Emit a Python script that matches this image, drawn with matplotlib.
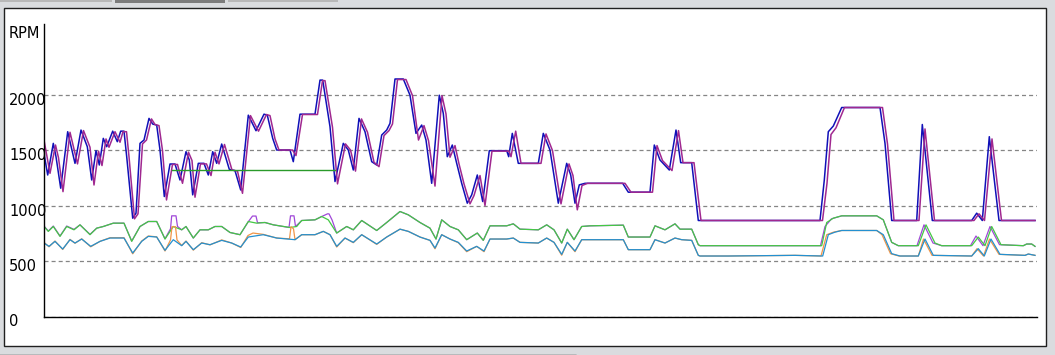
import matplotlib
matplotlib.use("Agg")
import matplotlib.pyplot as plt
import matplotlib.transforms as mtransforms
from matplotlib.patches import Rectangle

W, H = 1055, 355

# engine rpm traces, (time, rpm) breakpoints
t_blue = [0, 3.7, 9.3, 12, 16.7, 23.7, 31, 37, 43.3, 47.7, 52, 55.3, 59.3, 62.7, 68.7, 73.3, 76.7, 80,
          82.7, 88.7, 92, 96, 100, 105, 108.7, 112.7, 116, 120.3, 126, 131, 136, 142, 145.3, 148.7,
          154.3, 160, 164.3, 168.7, 172.7, 177.7, 185.3, 191, 196.7, 204.3, 212, 220, 223.3, 228.7,
          232.7, 246, 249.3, 256, 271, 276, 278.7, 286, 291, 299.3, 304.3, 309.3, 315, 321, 327.7,
          332.7, 337.7, 342.7, 346, 351, 359.3, 366, 372, 377.7, 382, 387.7, 395.3, 399.3, 403.3,
          408.3, 412.7, 417.7, 423.3, 427.7, 433.3, 438.7, 445.3, 462.7, 464.7, 468.3, 474.3, 494.3,
          499.3, 506, 514.3, 522.7, 526.7, 531, 535.3, 541, 578.7, 584.3, 606, 610.3, 616, 625.3,
          632, 636.7, 647.7, 654.3, 776, 780.3, 784.3, 789.3, 797.7, 836, 841, 847.7, 872.7, 878.3,
          888.3, 927.7, 932.7, 938.3, 945.3, 955, 991]
rpm_blue = [1470, 1275, 1560, 1440, 1156, 1665, 1380, 1680, 1530, 1230, 1494, 1365, 1605, 1530, 1670,
            1575, 1670, 1670, 1440, 886, 931, 1560, 1590, 1785, 1734, 1725, 1500, 1081, 1374, 1374,
            1230, 1485, 1410, 1096, 1380, 1380, 1275, 1485, 1380, 1554, 1326, 1314, 1140, 1814, 1674,
            1823, 1814, 1605, 1500, 1500, 1395, 1823, 1823, 2130, 2130, 1710, 1216, 1560, 1500, 1320,
            1785, 1665, 1395, 1365, 1635, 1680, 1740, 2140, 2140, 1994, 1650, 1725, 1590, 1200, 1994,
            1830, 1440, 1545, 1380, 1200, 1021, 1096, 1275, 1036, 1494, 1494, 1440, 1650, 1380, 1380,
            1650, 1500, 1021, 1380, 1275, 1021, 1186, 1200, 1200, 1120, 1120, 1545, 1410, 1320, 1680,
            1386, 1386, 865, 865, 1230, 1665, 1716, 1883, 1883, 1560, 865, 865, 1730, 865, 865, 931,
            865, 1620, 865, 865]

t_purple = [0, 6, 11.5, 14.5, 19, 26, 33.5, 39.5, 46, 50, 54.5, 58, 62, 65, 71, 76, 79, 82.5,
            85, 90.5, 94, 98.5, 102.5, 107.5, 111, 115, 118.5, 122.5, 128.5, 133.5, 138.5, 144.5,
            148, 151, 156.5, 162.5, 167, 171, 175, 180.5, 188, 193.5, 198.5, 206.5, 214.5, 222.5,
            226, 231, 235, 248.5, 252, 258.5, 273.5, 278.5, 281, 288.5, 293.5, 301.5, 306.5, 311.5,
            317.5, 323.5, 330, 335, 340, 345, 348.5, 353.5, 362, 368.5, 374.5, 380, 384.5, 391,
            398, 402, 406, 411, 415, 420, 426, 430, 436, 441, 448, 465, 467, 471.7, 477, 497, 502,
            508.5, 517, 525, 529, 533.3, 538, 543.5, 581, 587, 608.5, 613, 618.5, 628, 634.5, 639,
            650, 657, 778.5, 783, 787, 792, 800.5, 838.5, 843.5, 850, 875, 881, 890.5, 930, 935,
            940.5, 948, 957.5, 991]
rpm_purple = [1590, 1290, 1545, 1430, 1125, 1660, 1375, 1675, 1525, 1185, 1490, 1360, 1600, 1525,
              1665, 1570, 1665, 1665, 1440, 880, 925, 1555, 1590, 1780, 1730, 1720, 1495, 1050, 1370,
              1370, 1200, 1480, 1405, 1075, 1375, 1375, 1270, 1480, 1375, 1550, 1320, 1310, 1110,
              1810, 1670, 1820, 1810, 1600, 1500, 1500, 1450, 1820, 1820, 2125, 2125, 1705, 1195,
              1555, 1500, 1310, 1780, 1660, 1390, 1350, 1630, 1675, 1735, 2135, 2135, 1990, 1590,
              1720, 1585, 1175, 1990, 1825, 1435, 1540, 1375, 1195, 1015, 1090, 1270, 1000, 1490,
              1490, 1440, 1670, 1380, 1380, 1645, 1495, 1015, 1375, 1270, 961, 1180, 1200, 1200,
              1120, 1120, 1540, 1405, 1315, 1675, 1386, 1386, 865, 865, 1200, 1640, 1700, 1883,
              1883, 1555, 865, 865, 1690, 865, 865, 925, 865, 1600, 865, 865]

# flat hold segment
t_hold = [127.7, 291]
rpm_hold = [1317, 1317]

t_green = [0, 4.3, 9.3, 16, 22.7, 30, 36, 46, 52.7, 59.3, 69.3, 80, 87.7, 96, 104.3, 112.7, 121,
           129.3, 137.7, 142, 149.3, 156, 164.3, 171, 177.7, 186, 196, 204.3, 212.7, 221, 229.3,
           246, 252.7, 257.7, 271, 277.7, 284.3, 292.7, 302.7, 309.3, 317.7, 332.7, 342.7, 356,
           364.3, 376, 386, 392, 397.7, 406, 414.3, 422.7, 433.3, 439.3, 446, 462.7, 469.3, 476,
           494.3, 502.7, 510, 517.7, 523.3, 530, 537.7, 546, 579.3, 584.3, 606, 611, 621, 631, 636,
           647.7, 654.3, 656, 777.7, 782.7, 789.3, 797.7, 832.7, 839.3, 847.7, 854.3, 874.3, 882,
           891, 897.7, 927.7, 934.3, 941, 947.7, 957, 979.3, 982.7, 987.7, 991]
rpm_green = [811, 767, 811, 722, 811, 781, 826, 737, 796, 811, 841, 841, 677, 811, 856, 856, 698,
             811, 781, 811, 707, 781, 781, 811, 811, 757, 737, 856, 841, 847, 826, 802, 811, 865,
             871, 901, 871, 752, 811, 781, 865, 775, 847, 946, 916, 847, 796, 698, 871, 811, 781,
             692, 752, 686, 817, 817, 835, 787, 781, 826, 781, 662, 787, 692, 811, 817, 823, 716,
             716, 817, 781, 835, 787, 787, 647, 638, 638, 847, 886, 907, 907, 871, 668, 638, 638,
             826, 662, 638, 638, 716, 638, 811, 647, 638, 653, 653, 632]

t_violet = [0, 4.3, 9.3, 16, 22.7, 30, 36, 46, 52.7, 59.3, 69.3, 80, 87.7, 96, 104.3, 112.7, 121,
            126.5, 127.7, 132, 133.5, 137.7, 142, 149.3, 156, 164.3, 171, 177.7, 186, 196, 204,
            208.5, 212, 213.5, 221, 229.3, 245, 246.5, 250, 251.5, 257.7, 271, 277.7, 283.5, 285,
            288, 292.7, 302.7, 309.3, 317.7, 332.7, 342.7, 356, 364.3, 376, 386, 392, 397.7, 406,
            414.3, 422.7, 433.3, 439.3, 446, 462.7, 469.3, 476, 494.3, 502.7, 510, 517.7, 523.3,
            530, 537.7, 546, 579.3, 584.3, 606, 611, 621, 631, 636, 647.7, 654.3, 656, 776.5, 781,
            787.5, 797.7, 832.7, 839.3, 847.7, 854.3, 873, 880, 889, 897.7, 926.5, 932, 939,
            946, 955.5, 979.3, 982.7, 987.7, 991]
rpm_violet = [815, 770, 815, 725, 815, 785, 826, 740, 796, 811, 841, 841, 680, 811, 856, 856, 700,
              790, 907, 907, 811, 781, 811, 707, 781, 781, 811, 811, 757, 737, 850, 905, 905, 845,
              847, 826, 802, 907, 907, 811, 865, 871, 901, 925, 925, 871, 752, 811, 781, 865, 775,
              847, 946, 916, 847, 796, 698, 871, 811, 781, 692, 752, 686, 817, 817, 835, 787, 781,
              826, 781, 662, 787, 692, 811, 817, 823, 716, 716, 817, 781, 835, 787, 787, 647, 638,
              638, 811, 880, 907, 907, 871, 668, 638, 638, 826, 662, 638, 638, 725, 638, 811, 647,
              638, 653, 653, 632]

t_steel = [0, 5, 11, 18.7, 26, 31, 37.7, 46.7, 56, 66, 80, 88.7, 97.7, 104.3, 112.7, 121, 129.3,
           137.7, 142, 149.3, 157.7, 166, 177.7, 187.7, 196.7, 204.3, 219.3, 232.7, 251, 257.7,
           271, 279.3, 286, 292.7, 301, 309.3, 317.7, 332.7, 342.7, 356, 364.3, 376, 386, 391,
           397.7, 406, 414.3, 422.7, 432.7, 440, 446, 462.7, 469.3, 476, 494.3, 502.7, 510, 517.7,
           523.3, 531, 537.7, 579.3, 584.3, 606, 611, 621, 631, 637.7, 647.7, 654.3, 656, 684.3,
           751, 778.7, 784.3, 791, 797.7, 832.7, 839.3, 847.7, 856, 874.3, 881, 889.3, 927.7,
           934.3, 940.3, 947, 956, 981, 984.3, 991]
rpm_steel = [662, 632, 677, 608, 692, 662, 698, 632, 677, 707, 707, 572, 677, 722, 716, 596, 692,
             638, 677, 602, 662, 647, 686, 662, 626, 716, 737, 707, 692, 737, 737, 767, 737, 632,
             707, 668, 737, 653, 716, 787, 767, 716, 686, 617, 737, 698, 668, 590, 632, 590, 698,
             698, 707, 668, 662, 707, 668, 560, 668, 590, 692, 692, 602, 602, 692, 662, 707, 692,
             686, 551, 545, 545, 551, 545, 737, 760, 775, 775, 737, 566, 545, 545, 698, 551, 545,
             611, 545, 698, 560, 551, 563, 551]

t_orange = [0, 5, 11, 18.7, 26, 31, 37.7, 46.7, 56, 66, 80, 88.7, 97.7, 104.3, 112.7, 121, 126.5,
            128, 131.5, 133, 137.7, 142, 149.3, 157.7, 166, 177.7, 187.7, 196.7, 204, 209, 219.3,
            232.7, 245.5, 247, 249.5, 251, 257.7, 271, 279.3, 286, 292.7, 301, 309.3, 317.7, 332.7,
            342.7, 356, 364.3, 376, 386, 391, 397.7, 406, 414.3, 422.7, 432.7, 440, 446, 462.7,
            469.3, 476, 494.3, 502.7, 510, 517.7, 523.3, 531, 537.7, 579.3, 584.3, 606, 611, 621,
            631, 637.7, 647.7, 654.3, 656, 684.3, 751, 777, 782.7, 789.5, 797.7, 832.7, 838,
            846.5, 855, 874.3, 879.5, 888, 927.7, 933, 939.5, 945.5, 955, 981, 984.3, 991]
rpm_orange = [668, 628, 680, 604, 695, 660, 700, 628, 677, 710, 710, 565, 680, 725, 718, 590, 690,
              809, 809, 690, 640, 680, 598, 665, 645, 690, 662, 622, 730, 752, 740, 707, 700, 809,
              790, 692, 737, 737, 767, 737, 626, 707, 665, 737, 650, 716, 787, 767, 716, 686, 610,
              737, 698, 665, 584, 632, 584, 698, 698, 707, 668, 662, 707, 668, 552, 668, 584, 692,
              692, 602, 602, 692, 662, 707, 692, 686, 551, 545, 545, 551, 545, 737, 760, 775, 775,
              737, 566, 545, 545, 698, 551, 545, 611, 545, 698, 560, 551, 563, 551]

yticks = [0, 500, 1000, 1500, 2000]
ytick_labels = ["0", "500", "1000", "1500", "2000"]

plt.rcParams['font.family'] = ['DejaVu Sans']
plt.rcParams['lines.scale_dashes'] = False

fig = plt.figure(figsize=(W / 100, H / 100), dpi=100)
fig.patch.set_facecolor('#dadcdf')

# tab strip on top and panel below, like the logger window
fig.add_artist(Rectangle((0, 1 - 1.5 / H), 112 / W, 1.5 / H, transform=fig.transFigure,
                         facecolor='#b8b8b8', edgecolor='none', zorder=-10))
fig.add_artist(Rectangle((115 / W, 1 - 2.5 / H), 110 / W, 2.5 / H, transform=fig.transFigure,
                         facecolor='#7c7c7c', edgecolor='none', zorder=-10))
fig.add_artist(Rectangle((228 / W, 1 - 1.5 / H), 110 / W, 1.5 / H, transform=fig.transFigure,
                         facecolor='#b8b8b8', edgecolor='none', zorder=-10))
fig.add_artist(Rectangle((4 / W, 9 / H), 1042 / W, 338 / H, transform=fig.transFigure,
                         facecolor='white', edgecolor='#202020', lw=1.0, zorder=-10))
fig.add_artist(Rectangle((-0.01, -0.01), 576 / W + 0.01, 3.5 / H, transform=fig.transFigure,
                         facecolor='white', edgecolor='#303030', lw=1.0, zorder=-10))

ax = fig.add_axes([44 / W, 38.5 / H, 993 / W, 293 / H])
ax.set_facecolor('none')

ax.plot(t_blue, rpm_blue, color='#1010b8', lw=1.1)
ax.plot(t_purple, rpm_purple, color='#a02890', lw=1.1)
ax.plot(t_hold, rpm_hold, color='#2a9a2a', lw=1.0)
ax.plot(t_violet, rpm_violet, color='#a048d8', lw=0.9)
ax.plot(t_green, rpm_green, color='#44c844', lw=0.9)
ax.plot(t_orange, rpm_orange, color='#f09648', lw=0.9)
ax.plot(t_steel, rpm_steel, color='#2490d0', lw=0.9)

ax.set_xlim(0, 993)
ax.set_ylim(0, 2640)
ax.set_xticks([])
ax.set_yticks(yticks)
ax.set_yticklabels(ytick_labels)
ax.tick_params(axis='y', length=0, pad=25.2, labelsize=10.5, colors='black')
down = mtransforms.ScaledTranslation(0, -4 / 100, fig.dpi_scale_trans)
for lab in ax.get_yticklabels():
    lab.set_horizontalalignment('left')
    lab.set_transform(lab.get_transform() + down)
ax.yaxis.grid(True, color='#858585', lw=0.9, linestyle=(0, (2.9, 2.2)))
ax.set_axisbelow(True)

for side in ['top', 'right']:
    ax.spines[side].set_visible(False)
ax.spines['left'].set_linewidth(1.0)
ax.spines['bottom'].set_linewidth(1.0)

fig.text(9 / W, 1 - 33 / H, "RPM", fontsize=10.5, va='center', ha='left')

fig.savefig("out.png", dpi=100)
